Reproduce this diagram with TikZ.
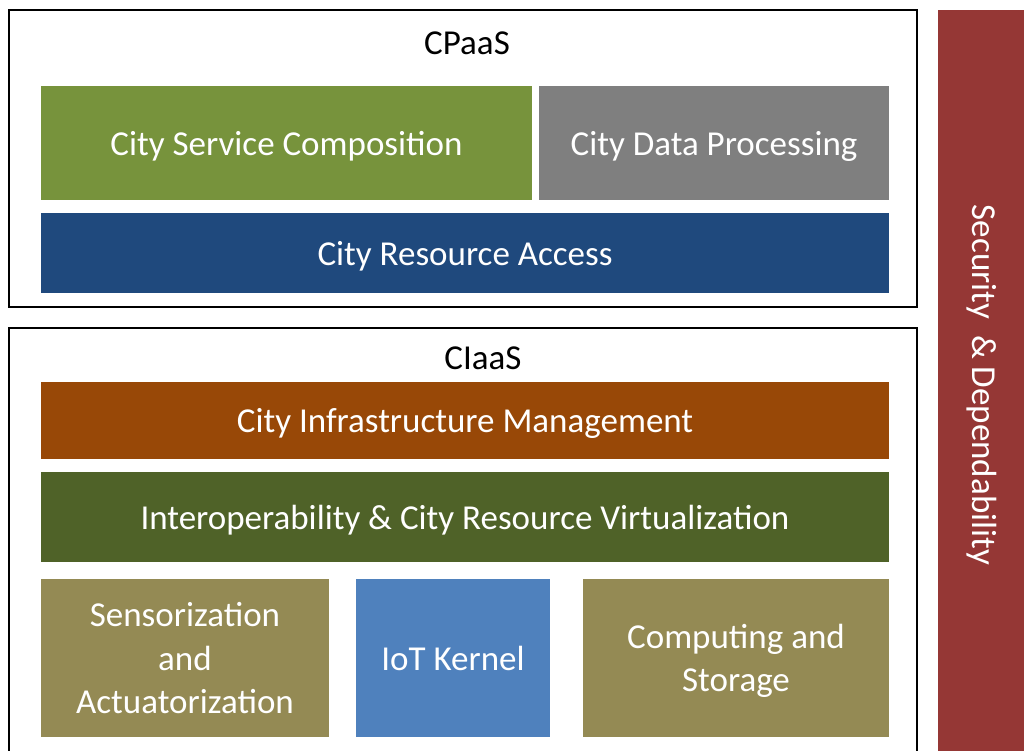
\documentclass[tikz,border=0pt]{standalone}
\usepackage{fontspec}
\setmainfont{Carlito}
\definecolor{svcgreen}{HTML}{77933C}
\definecolor{datagray}{HTML}{7F7F7F}
\definecolor{accblue}{HTML}{1F497D}
\definecolor{infbrown}{HTML}{984807}
\definecolor{virtgreen}{HTML}{4F6228}
\definecolor{senolive}{HTML}{948A54}
\definecolor{iotblue}{HTML}{4F81BD}
\definecolor{secred}{HTML}{953735}
\begin{document}
\begin{tikzpicture}[x=1pt,y=-1pt,
  layer/.style={rectangle,inner sep=0pt,text=white,text depth=0pt,align=center,font=\fontsize{35}{43.5}\selectfont},
  frame/.style={rectangle,draw=black,line width=1.5pt,inner sep=0pt},
  heading/.style={font=\fontsize{35}{42}\selectfont}]
\useasboundingbox (0,0) rectangle (1024,751);
\clip (0,0) rectangle (1024,751);
% CPaaS
\node (cpaas)[frame,minimum width=908pt,minimum height=297pt] at (463,158.5) {};
\node (cpaash)[heading] at (467,43) {CPaaS};
\node (csc)[layer,fill=svcgreen,minimum width=491pt,minimum height=114pt] at (286.5,143) {City Service Composition};
\node (cdp)[layer,fill=datagray,minimum width=350pt,minimum height=114pt] at (714,143) {City Data Processing};
\node (cra)[layer,fill=accblue,minimum width=848pt,minimum height=80pt] at (465,253) {City Resource Access};
% CIaaS
\node (ciaas)[frame,minimum width=908pt,minimum height=460pt] at (463,558) {};
\node (ciaash)[heading] at (483,358) {CIaaS};
\node (cim)[layer,fill=infbrown,minimum width=848pt,minimum height=77pt] at (465,420.5) {City Infrastructure Management};
\node (irv)[layer,fill=virtgreen,minimum width=848pt,minimum height=90pt] at (465,517) {Interoperability \& City Resource Virtualization};
\node (sa)[layer,fill=senolive,minimum width=288pt,minimum height=158pt] at (185,658) {Sensorization\\and\\Actuatorization};
\node (iot)[layer,fill=iotblue,minimum width=194pt,minimum height=158pt] at (453,658) {IoT Kernel};
\node (cs)[layer,fill=senolive,minimum width=306pt,minimum height=158pt] at (736,658) {Computing and\\Storage};
% security
\node (sec)[layer,fill=secred,minimum width=86pt,minimum height=760pt] at (981,390) {};
\node (sech)[layer,rotate=-90] at (985,385) {Security~~\& Dependability};
\end{tikzpicture}
\end{document}
